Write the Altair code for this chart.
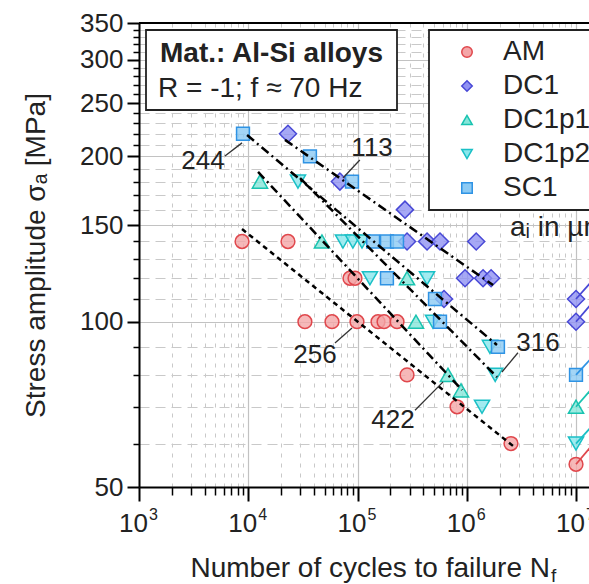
import altair as alt
import pandas as pd

# ----------------------------- data -----------------------------
series_names = ["AM", "DC1", "DC1p1", "DC1p2", "SC1"]
series_shapes = ["circle", "diamond", "triangle-up", "triangle-down", "square"]
series_stroke = ["#e0474c", "#4848d6", "#19c3b0", "#1ac0c6", "#2f93e4"]
series_fill = ["#f4a6a8", "#9092f3", "#86e6da", "#8ae6ec", "#8ccaf4"]
series_size = [190, 290, 230, 230, 165]

am_N = [8770, 23100, 85300, 94900, 33000, 58400, 98900, 154000, 175000, 230000,
        284000, 815000, 2540000, 10000000]
am_S = [140, 140, 120, 120, 100, 100, 100, 100, 100, 100, 80, 70, 60, 55]
dc1_N = [23100, 69000, 272000, 284000, 433000, 569000, 1220000, 964000, 1410000,
         1670000, 619000, 10000000, 10000000]
dc1_S = [220, 180, 160, 140, 140, 140, 140, 120, 120, 120, 110, 110, 100]
dc1p1_N = [12800, 47300, 284000, 343000, 673000, 886000, 10000000]
dc1p1_S = [180, 140, 120, 100, 80, 75, 70]
dc1p2_N = [28500, 73600, 90800, 110000, 130000, 433000, 491000, 1630000, 1820000,
           1380000, 10000000]
dc1p2_S = [180, 140, 140, 140, 120, 120, 100, 90, 80, 70, 60]
sc1_N = [8950, 36700, 89000, 139000, 186000, 230000, 186000, 512000, 569000,
         1930000, 10000000]
sc1_S = [220, 200, 180, 140, 140, 140, 120, 110, 100, 90, 80]

# fitted lines (start / end)
fit_series = ["SC1", "DC1", "DC1p1", "DC1p2", "AM"]
fit_style = ["dashdot", "dashdot", "dashdot", "dashdot", "dash"]
fit_N1 = [9750, 21700, 12300, 29800, 8770]
fit_S1 = [218.8, 214.4, 187.4, 182.7, 147.5]
fit_N2 = [1890000, 1740000, 906000, 1890000, 2650000]
fit_S2 = [90.7, 116.6, 75.1, 79.3, 59.4]

# a_i annotations and leader lines
ann_text = ["244", "113", "256", "422", "316"]
ann_N = [3850, 136000, 40800, 211000, 4490000]
ann_S = [196.3, 207.3, 87.0, 66.3, 91.5]
lead_N1 = [6120, 105000, 62200, 336000, 2940000]
lead_S1 = [200.4, 197.0, 91.5, 69.0, 87.8]
lead_N2 = [8770, 73600, 89100, 607000, 2100000]
lead_S2 = [211.7, 182.7, 97.4, 77.7, 81.0]

# run-out continuation segments (leaving the visible frame)
ro_series = ["AM", "DC1", "DC1", "DC1p1", "DC1p2", "SC1"]
ro_N1 = [10000000, 10000000, 10000000, 10000000, 10000000, 10000000]
ro_S1 = [55, 110, 100, 70, 60, 80]
ro_N2 = [19000000, 19000000, 19000000, 19000000, 19000000, 19000000]
ro_S2 = [64, 127, 116, 81, 69, 92]

# ticks
x_major = [1000, 10000, 100000, 1000000, 10000000]
x_exp = ["3", "4", "5", "6", "7"]
x_minor = [2000, 3000, 4000, 5000, 6000, 7000, 8000, 9000,
           20000, 30000, 40000, 50000, 60000, 70000, 80000, 90000,
           200000, 300000, 400000, 500000, 600000, 700000, 800000, 900000,
           2000000, 3000000, 4000000, 5000000, 6000000, 7000000, 8000000, 9000000]
y_major = [50, 100, 150, 200, 250, 300, 350]
y_minor = [60, 70, 80, 90, 110, 120, 130, 140, 160, 170, 180, 190, 210, 220, 230,
           240, 260, 270, 280, 290, 310, 320, 330, 340]

x_title = "Number of cycles to failure N"
x_title_sub = "f"
y_title = "Stress amplitude σₐ [MPa]"
box_line1 = "Mat.: Al-Si alloys"
box_line2 = "R = -1; f ≈ 70 Hz"
ai_note = "aᵢ in µm"

# ----------------------------- tables -----------------------------
rows = []
for name, Ns, Ss in [("AM", am_N, am_S), ("DC1", dc1_N, dc1_S), ("DC1p1", dc1p1_N, dc1p1_S),
                     ("DC1p2", dc1p2_N, dc1p2_S), ("SC1", sc1_N, sc1_S)]:
    sz = series_size[series_names.index(name)]
    for n, s in zip(Ns, Ss):
        rows.append({"series": name, "N": n, "S": s, "sz": sz})
pts = pd.DataFrame(rows)

fits = pd.DataFrame({"series": fit_series, "style": fit_style, "N1": fit_N1, "S1": fit_S1,
                     "N2": fit_N2, "S2": fit_S2})
ann = pd.DataFrame({"t": ann_text, "N": ann_N, "S": ann_S, "N1": lead_N1, "S1": lead_S1,
                    "N2": lead_N2, "S2": lead_S2})
ro = pd.DataFrame({"series": ro_series, "N1": ro_N1, "S1": ro_S1, "N2": ro_N2, "S2": ro_S2,
                   "col": [series_stroke[series_names.index(s)] for s in ro_series]})
xt = pd.DataFrame({"N": x_major, "base": ["10"] * len(x_major), "exp": x_exp})
top = pd.DataFrame({"S": [350]})

FONT = "Liberation Sans"
TXT = "#222222"
xscale = alt.Scale(type="log", domain=[1000, 13150000], nice=False)
yscale = alt.Scale(type="log", domain=[50, 350], nice=False)

def xn(field="N"):
    return alt.X(f"{field}:Q", scale=xscale, axis=None)

def yn(field="S"):
    return alt.Y(f"{field}:Q", scale=yscale, axis=None)

# minor grid + minor ticks
minor = alt.Chart(pts).mark_point(opacity=0, size=1).encode(
    x=alt.X("N:Q", scale=xscale, axis=alt.Axis(
        values=x_minor, labels=False, tickSize=8, tickWidth=1.5, tickColor="black",
        domain=False, grid=True, gridDash=[4, 6], gridColor="#c9c9c9", gridWidth=1,
        title=None, orient="bottom")),
    y=alt.Y("S:Q", scale=yscale, axis=alt.Axis(
        values=y_minor, labels=False, tickSize=6, tickWidth=1.5, tickColor="black",
        domain=False, grid=True, gridDash=[10, 6], gridColor="#c9c9c9", gridWidth=1,
        title=None, orient="left")),
)

leg = alt.Legend(title=None, orient="none", legendX=290, legendY=7,
                 labelFontSize=28, labelFont=FONT, labelColor=TXT,
                 symbolSize=110, symbolStrokeWidth=1.5, padding=8, rowPadding=6,
                 symbolOffset=16, labelOffset=22, strokeColor="#222222", fillColor="white")

points = alt.Chart(pts).mark_point(filled=True, opacity=1, fillOpacity=0.8,
                                   strokeWidth=1.5, clip=True).encode(
    x=alt.X("N:Q", scale=xscale, axis=alt.Axis(
        values=x_major, labels=False, tickSize=14, tickWidth=2, tickColor="black",
        domain=True, domainWidth=2, domainColor="black", grid=True,
        gridColor="#c2c2c2", gridWidth=1.2, orient="bottom",
        title=x_title, titleFont=FONT, titleFontSize=28, titleFontWeight="normal",
        titleColor=TXT, titleAlign="left", titleX=51, titleY=89,
        titleBaseline="alphabetic")),
    y=alt.Y("S:Q", scale=yscale, axis=alt.Axis(
        values=y_major, labelFont=FONT, labelFontSize=26, labelColor=TXT, labelPadding=4,
        tickSize=12, tickWidth=2, tickColor="black", domain=True, domainWidth=2,
        domainColor="black", grid=True, gridColor="#c2c2c2", gridWidth=1.2,
        orient="left", title=y_title, titleFont=FONT, titleFontSize=28,
        titleFontWeight="normal", titleColor=TXT, titleAngle=270, titleX=-95,
        titleY=232, titleBaseline="alphabetic", titleAlign="center")),
    shape=alt.Shape("series:N", scale=alt.Scale(domain=series_names, range=series_shapes), legend=leg),
    fill=alt.Fill("series:N", scale=alt.Scale(domain=series_names, range=series_fill), legend=leg),
    stroke=alt.Stroke("series:N", scale=alt.Scale(domain=series_names, range=series_stroke), legend=leg),
    size=alt.Size("sz:Q", scale=None),
)

fit_lines = alt.Chart(fits).mark_rule(color="black", strokeWidth=2.5, clip=True).encode(
    x=xn("N1"), x2="N2:Q", y=yn("S1"), y2="S2:Q",
    strokeDash=alt.StrokeDash("style:N", scale=alt.Scale(domain=["dashdot", "dash"],
                              range=[[9, 4, 2, 4], [5, 4]]), legend=None),
)

leaders = alt.Chart(ann).mark_rule(color="#333333", strokeWidth=1.3).encode(
    x=xn("N1"), x2="N2:Q", y=yn("S1"), y2="S2:Q")

ann_txt = alt.Chart(ann).mark_text(font=FONT, fontSize=26, color=TXT, align="center",
                                   baseline="middle").encode(x=xn("N"), y=yn("S"), text="t:N")

runouts = alt.Chart(ro).mark_rule(strokeWidth=1.8, clip=True).encode(
    x=xn("N1"), x2="N2:Q", y=yn("S1"), y2="S2:Q", stroke=alt.Stroke("col:N", scale=None))

top_rule = alt.Chart(top).mark_rule(color="black", strokeWidth=2).encode(y=yn("S"))

box = alt.Chart(top).mark_rect(fill="white", stroke="#222222", strokeWidth=1.8).encode(
    x=alt.value(7), x2=alt.value(258), y=alt.value(7), y2=alt.value(87))
box_t1 = alt.Chart(top).mark_text(text=box_line1, font=FONT, fontSize=28, fontWeight="bold",
                                  color=TXT, align="left", baseline="alphabetic").encode(
    x=alt.value(21), y=alt.value(39))
box_t2 = alt.Chart(top).mark_text(text=box_line2, font=FONT, fontSize=28, color=TXT,
                                  align="left", baseline="alphabetic").encode(
    x=alt.value(19), y=alt.value(74))
ai_t = alt.Chart(top).mark_text(text=ai_note, font=FONT, fontSize=28, color=TXT,
                                align="left", baseline="middle").encode(
    x=alt.value(371), y=alt.value(205))
xsub = alt.Chart(top).mark_text(text=x_title_sub, font=FONT, fontSize=19, color=TXT,
                                align="left", baseline="alphabetic").encode(
    x=alt.value(412), y=alt.value(559))

xt_base = alt.Chart(xt).mark_text(font=FONT, fontSize=26, color=TXT, align="right",
                                  baseline="alphabetic", dx=9).encode(
    x=xn("N"), y=alt.value(509), text="base:N")
xt_exp = alt.Chart(xt).mark_text(font=FONT, fontSize=16, color=TXT, align="left",
                                 baseline="alphabetic", dx=10).encode(
    x=xn("N"), y=alt.value(497), text="exp:N")

chart = alt.layer(
    minor, points, fit_lines, leaders, ann_txt, runouts, top_rule, box, box_t1, box_t2,
    ai_t, xsub, xt_base, xt_exp
).resolve_axis(x="independent", y="independent").properties(
    width=450, height=464,
    autosize=alt.AutoSizeParams(type="none"),
    padding={"left": 139, "top": 23, "right": 0, "bottom": 97},
).configure_view(stroke=None).configure(font=FONT).configure_legend(strokeWidth=1.8)

chart.save("out.html", embed_options={"renderer": "svg", "actions": False})
